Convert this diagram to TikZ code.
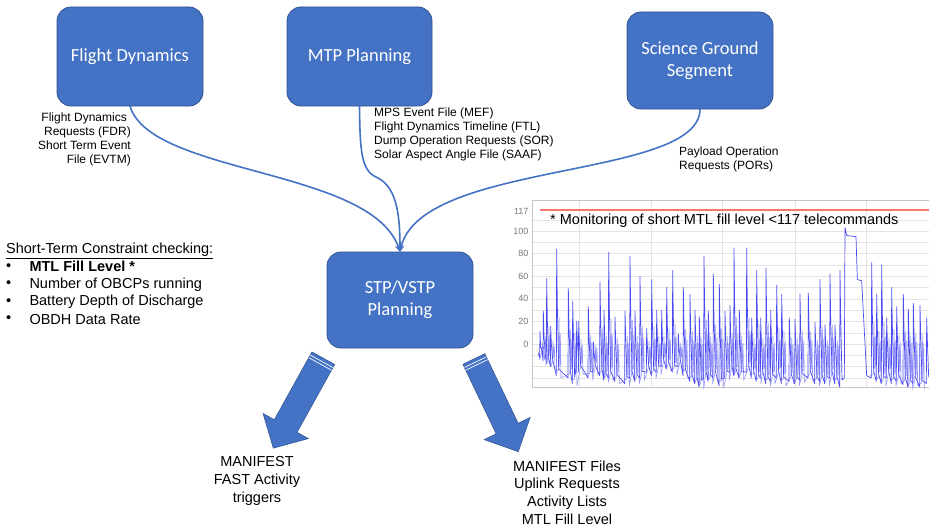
\documentclass[tikz,border=0pt]{standalone}
\usepackage{fontspec}
\setmainfont{Liberation Sans}
\newfontfamily\boxfont{Carlito}
\usetikzlibrary{arrows.meta}
\definecolor{boxblue}{HTML}{4472C4}
\definecolor{boxedge}{HTML}{2F528F}
\definecolor{series}{RGB}{75,75,240}
\definecolor{serieslight}{RGB}{150,150,250}
\definecolor{gridc}{RGB}{228,228,228}
\definecolor{axisc}{RGB}{120,120,120}
\definecolor{limitred}{RGB}{245,120,110}
\begin{document}
\begin{tikzpicture}[x=1pt,y=-1pt,
  box/.style={draw=boxedge, line width=0.8pt, fill=boxblue, rounded corners=14pt,
    text=white, font=\boxfont\fontsize{18.5}{22}\selectfont, align=center,
    inner sep=0pt, outer sep=0pt},
  flow/.style={draw=boxblue, line width=1.6pt, -{Stealth[length=7pt,width=6pt]}},
  lbl/.style={font=\fontsize{12}{14}\selectfont, inner sep=0pt},
  txt/.style={font=\fontsize{14.5}{17.7}\selectfont, inner sep=0pt},
  bigarrow/.style={fill=boxblue, draw=boxedge, line width=0.5pt},
  stripe/.style={draw=white, line width=0.7pt},
  ylab/.style={font=\fontsize{9}{10}\selectfont, text=axisc, anchor=east, inner sep=0pt},
  wiggle/.style={draw=serieslight, line width=0.6pt, line join=round},
  spikes/.style={draw=series, line width=0.7pt, line join=round},
  limitline/.style={draw=limitred, line width=1.3pt}
]
\useasboundingbox (0,0) rectangle (929,527);

% boxes
\node[box, minimum width=146pt, minimum height=99pt] (fd) at (130,56.5) {Flight Dynamics};
\node[box, minimum width=145pt, minimum height=99pt] (mtp) at (359.5,56.5) {MTP Planning};
\node[box, minimum width=146pt, minimum height=97pt] (sgs) at (700,60.5) {Science Ground\\Segment};
\node[box, minimum width=146pt, minimum height=96pt] (stp) at (400,300) {STP/VSTP\\Planning};

% connectors
\draw[flow] (fd.south) .. controls (150,175) and (372,168) .. (stp.north);
\draw[flow] (mtp.south) .. controls (360,150) and (361,170) .. (376,177)
  .. controls (396,186) and (400,212) .. (stp.north);
\draw[flow] (sgs.south) .. controls (700,180) and (420,160) .. (stp.north);

% connector labels
\node[lbl, align=right, anchor=north east] (fdl) at (131,113)
  {Flight Dynamics\hspace*{4pt}\\Requests (FDR)\\Short Term Event\hspace*{5pt}\\File (EVTM)};
\node[lbl, align=left, anchor=north west] (mtpl) at (374,108)
  {MPS Event File (MEF)\\Flight Dynamics Timeline (FTL)\\Dump Operation Requests (SOR)\\Solar Aspect Angle File (SAAF)};
\node[lbl, align=left, anchor=north west] (sgsl) at (679,147)
  {Payload Operation\\Requests (PORs)};

% constraint list
\node[txt, anchor=west] (sthead) at (6,250.7) {\underline{Short-Term Constraint checking:}};
\node[txt, anchor=west] (b1) at (6,266.7) {\textbullet};
\node[txt, anchor=west] (i1) at (29.3,266.7) {\textbf{MTL Fill Level *}};
\node[txt, anchor=west] (b2) at (6,284.3) {\textbullet};
\node[txt, anchor=west] (i2) at (29.3,284.3) {Number of OBCPs running};
\node[txt, anchor=west] (b3) at (6,301.9) {\textbullet};
\node[txt, anchor=west] (i3) at (29.3,301.9) {Battery Depth of Discharge};
\node[txt, anchor=west] (b4) at (6,319.5) {\textbullet};
\node[txt, anchor=west] (i4) at (29.3,319.5) {OBDH Data Rate};

% big arrows
\draw[bigarrow] (311.9,351.9) -- (334.7,364.5) -- (297.1,432.3) -- (308.4,438.6)
  -- (273.3,448.2) -- (263.0,413.4) -- (274.3,419.7) -- cycle;
\draw[stripe] (333.0,367.6) -- (310.2,355.0);
\draw[stripe] (331.5,370.2) -- (308.7,357.6);
\draw[bigarrow] (462.85,364.3) -- (484.85,353.7) -- (518.15,423.2) -- (530.2,417.4)
  -- (518.3,451.7) -- (484.1,439.6) -- (496.15,433.8) -- cycle;
\draw[stripe] (486.4,356.9) -- (464.4,367.5);
\draw[stripe] (487.7,359.6) -- (465.7,370.2);

% outputs
\node[txt, align=center] (out1) at (257,481) {MANIFEST\\FAST Activity\\triggers};
\node[txt, align=center] (out2) at (567,492.5) {MANIFEST Files\\Uplink Requests\\Activity Lists\\MTL Fill Level};

% chart
\begin{scope}[shift={(500pt,-344pt)}, x=0.33333pt, y=1.13pt]
  \foreach \v in {-30,-20,...,110} \draw[gridc, line width=0.4pt] (96,\v) -- (1287,\v);
  \foreach \gx in {237,455,668,887,1100} \draw[gridc, line width=0.5pt] (\gx,127) -- (\gx,-38);
  \draw[gridc!70!gray, line width=0.6pt] (1287,127) -- (96,127) -- (96,-38) -- (1287,-38);
  \foreach \v in {117,100,80,60,40,20,0} \node[ylab] (yl\v) at (86,\v) {\v};
  % lighter secondary wiggles
  \draw[wiggle] (118,-14)
    \foreach \x/\v/\t in {120/11/-12,130/29/-15,140/58/-18,152/16/-20,170/84/-28,205/49/-30,
      218/38/-35,236/20/-25,265/33/-30,280/2/-25,300/55/-28,312/30/-32,326/81/-30,
      345/24/-33,375/29/-35,390/78/-30,405/29/-33,420/60/-30,440/14/-25,455/57/-28,470/30/-25,
      485/30/-20,500/50/-22,518/65/-25,535/9/-20,550/50/-28,570/44/-33,585/30/-35,598/24/-38,
      612/78/-30,625/29/-33,640/62/-30,658/53/-37,675/29/-30,690/34/-25,702/85/-28,718/30/-30,
      740/85/-25,755/23/-30,770/65/-33,782/23/-30,798/67/-35,812/30/-33,830/52/-30,845/44/-35,
      868/23/-33,885/22/-35,900/44/-32,925/45/-30,945/19/-35,960/57/-33,975/17/-35,990/62/-30,
      1005/17/-35}
      { -- (\x+5,{\t+4}) -- (\x+7,{0.3*\v-2}) -- (\x+9,{\t+8}) -- (\x+11,{0.15*\v-4}) -- (\x+13,{\t-2}) };
  \draw[wiggle] (1112,-28)
    \foreach \x/\v/\t in {1115/72/-30,1130/44/-33,1145/70/-35,1160/23/-30,1175/50/-35,
      1190/33/-33,1210/44/-36,1225/31/-38,1240/36/-35,1260/34/-38}
      { -- (\x+5,{\t+4}) -- (\x+7,{0.3*\v-2}) -- (\x+9,{\t+8}) -- (\x+11,{0.15*\v-4}) -- (\x+13,{\t-2}) };
  % main series
  \draw[spikes] (115,-8)
    \foreach \x/\v/\t in {120/11/-12,130/29/-15,140/58/-18,152/16/-20,170/84/-28,205/49/-30,
      218/38/-35,230/20/-20,236/20/-25,265/33/-30,280/2/-25,300/55/-28,312/30/-32,326/81/-30,
      345/24/-33,375/29/-35,390/78/-30,405/29/-33,420/60/-30,440/14/-25,455/57/-28,470/30/-25,
      485/30/-20,500/50/-22,518/65/-25,535/9/-20,550/50/-28,570/44/-33,585/30/-35,598/24/-38,
      612/78/-30,625/29/-33,640/62/-30,658/53/-37,675/29/-30,690/34/-25,702/85/-28,718/30/-30,
      740/85/-25,755/23/-30,770/65/-33,782/23/-30,798/67/-35,812/30/-33,830/52/-30,845/44/-35,
      868/23/-33,885/22/-35,900/44/-32,925/45/-30,945/19/-35,960/57/-33,975/17/-35,990/62/-30,
      1005/17/-35,1020/65/-38}
      { -- (\x-1,\t) -- (\x,\v) -- (\x+2,{0.5*\v-8}) -- (\x+6,{\t+6}) }
    -- (1033,-30) -- (1035,103) -- (1040,96) -- (1068,95) -- (1072,57) -- (1085,56) -- (1100,-28)
    \foreach \x/\v/\t in {1115/72/-30,1130/44/-33,1145/70/-35,1160/23/-30,1175/50/-35,
      1190/33/-33,1210/44/-36,1225/31/-38,1240/36/-35,1260/34/-38,1280/23/-35}
      { -- (\x-1,\t) -- (\x,\v) -- (\x+2,{0.5*\v-8}) -- (\x+6,{\t+6}) };
  \draw[limitline] (120,118.5) -- (1287,118.5);
  \node[font=\fontsize{14.5}{17}\selectfont, anchor=west, inner sep=0pt] (ctitle) at (150,109.5)
    {* Monitoring of short MTL fill level <117 telecommands};
\end{scope}
\end{tikzpicture}
\end{document}
